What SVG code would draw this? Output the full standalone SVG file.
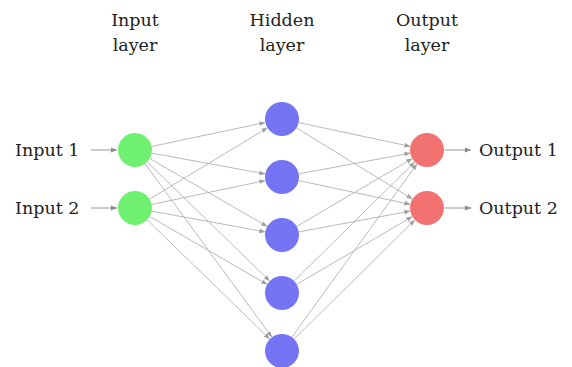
<svg xmlns="http://www.w3.org/2000/svg" width="572" height="367" viewBox="0 0 572 367">
<style>
text{font-family:"DejaVu Serif","Liberation Serif",serif;font-size:17.5px;fill:#222}
.hd{text-anchor:middle}
.in{fill:#70f070}
.hid{fill:#7474f4}
.out{fill:#f27272}
.e{stroke:#a8a8a8;stroke-width:0.8;fill:none;marker-end:url(#ah)}
.io{stroke:#8a8a8a;stroke-width:0.9;fill:none;marker-end:url(#ah2)}
</style>
<defs>
<marker id="ah" viewBox="0 0 10 10" refX="10" refY="5" markerWidth="6" markerHeight="6" orient="auto" markerUnits="userSpaceOnUse"><path d="M0,1 L10,5 L0,9 z" fill="#a0a0a0"/></marker>
<marker id="ah2" viewBox="0 0 10 10" refX="10" refY="5" markerWidth="6" markerHeight="6" orient="auto" markerUnits="userSpaceOnUse"><path d="M0,1 L10,5 L0,9 z" fill="#8a8a8a"/></marker>
</defs>
<rect width="572" height="367" fill="#fff"/>
<g id="headers">
<text class="hd" x="135" y="26">Input</text><text class="hd" x="135" y="51">layer</text>
<text class="hd" x="282" y="26">Hidden</text><text class="hd" x="282" y="51">layer</text>
<text class="hd" x="427" y="26">Output</text><text class="hd" x="427" y="51">layer</text>
</g>
<g id="connectors">
<path class="io" d="M91,150 L117,150"/>
<path class="io" d="M91,208 L117,208"/>
<path class="io" d="M445,150 L471,150"/>
<path class="io" d="M445,208 L471,208"/>
<path class="e" d="M151.6,146.5 L265.4,122.5"/>
<path class="e" d="M151.7,153.1 L265.3,173.9"/>
<path class="e" d="M149.7,158.5 L267.3,226.5"/>
<path class="e" d="M147.2,161.9 L269.8,281.1"/>
<path class="e" d="M145.0,163.7 L272.0,337.3"/>
<path class="e" d="M149.5,199.2 L267.5,127.8"/>
<path class="e" d="M151.6,204.5 L265.4,180.5"/>
<path class="e" d="M151.7,211.1 L265.3,231.9"/>
<path class="e" d="M149.7,216.5 L267.3,284.5"/>
<path class="e" d="M147.2,219.9 L269.8,339.1"/>
<path class="e" d="M298.6,122.6 L410.4,146.4"/>
<path class="e" d="M296.5,127.9 L412.5,199.1"/>
<path class="e" d="M298.7,173.9 L410.3,153.1"/>
<path class="e" d="M298.6,180.6 L410.4,204.4"/>
<path class="e" d="M296.7,226.4 L412.3,158.6"/>
<path class="e" d="M298.7,231.9 L410.3,211.1"/>
<path class="e" d="M294.1,281.1 L414.9,161.9"/>
<path class="e" d="M296.7,284.4 L412.3,216.6"/>
<path class="e" d="M291.9,337.2 L417.1,163.8"/>
<path class="e" d="M294.1,339.1 L414.9,219.9"/>
</g>
<g id="label-input1"><text x="15" y="156">Input 1</text></g>
<g id="label-input2"><text x="15" y="214">Input 2</text></g>
<g id="label-output1"><text x="479" y="156">Output 1</text></g>
<g id="label-output2"><text x="479" y="214">Output 2</text></g>
<g id="I1"><circle class="in" cx="135" cy="150" r="17"/></g>
<g id="I2"><circle class="in" cx="135" cy="208" r="17"/></g>
<g id="H1"><circle class="hid" cx="282" cy="119" r="17"/></g>
<g id="H2"><circle class="hid" cx="282" cy="177" r="17"/></g>
<g id="H3"><circle class="hid" cx="282" cy="235" r="17"/></g>
<g id="H4"><circle class="hid" cx="282" cy="293" r="17"/></g>
<g id="H5"><circle class="hid" cx="282" cy="351" r="17"/></g>
<g id="O1"><circle class="out" cx="427" cy="150" r="17"/></g>
<g id="O2"><circle class="out" cx="427" cy="208" r="17"/></g>
</svg>
